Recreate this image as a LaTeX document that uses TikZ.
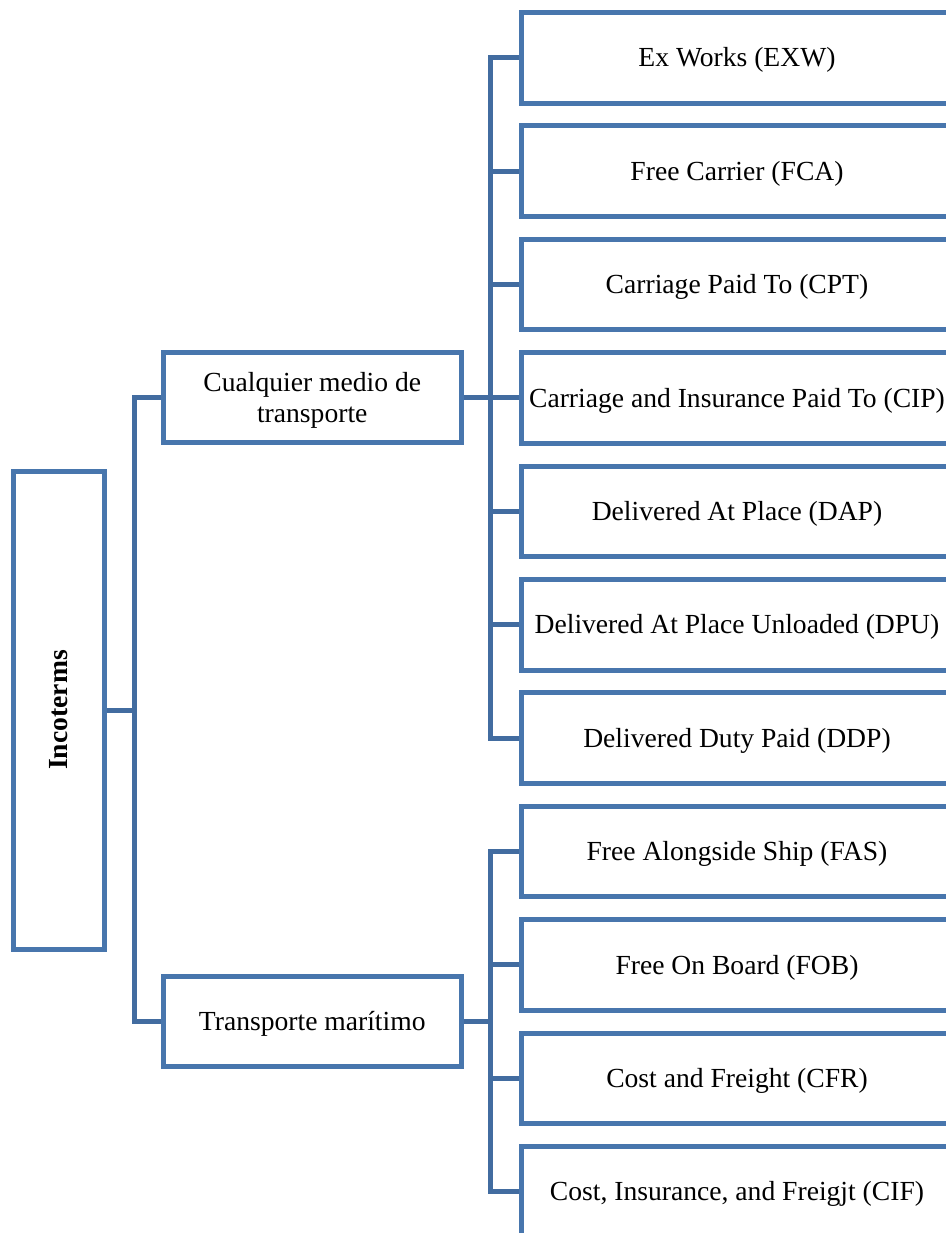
\documentclass[tikz,border=0pt]{standalone}
\usepackage{fontspec}
\setmainfont{Liberation Serif}
\definecolor{boxblue}{RGB}{72,118,173}
\definecolor{linkblue}{RGB}{66,108,160}
% centred label, set slightly below the geometric middle of its box
\newcommand\boxlabel[1]{\raisebox{-1.5pt}[\height][\depth]{\begin{tabular}{@{}c@{}}#1\end{tabular}}}
\tikzset{
  base/.style={draw=boxblue, line width=2.5pt, fill=white, inner sep=0pt,
    font=\fontsize{13.8pt}{15.5pt}\selectfont},
  rootbox/.style={base, minimum width=45.5pt, minimum height=239pt},
  groupbox/.style={base, minimum width=148.75pt, minimum height=44.75pt},
  termbox/.style={base, minimum width=216pt, minimum height=45.25pt},
  link/.style={draw=linkblue, line width=2.5pt, line join=miter},
}
\begin{document}
\begin{tikzpicture}[x=0.5pt, y=-0.5pt]
\useasboundingbox (0,0) rectangle (946,1233);
\clip (0,0) rectangle (946,1233);

% root
\node[rootbox] (inc) at (59,710) {\rotatebox{90}{\textbf{Incoterms}}};

% groups
\node[groupbox] (cual) at (312.25,397.5) {\boxlabel{Cualquier medio de\\transporte}};
\node[groupbox] (tran) at (312.25,1021.5) {\boxlabel{Transporte marítimo}};

% terms
\node[termbox] (exw) at (737,57.75)   {\boxlabel{Ex Works (EXW)}};
\node[termbox] (fca) at (737,171.15)  {\boxlabel{Free Carrier (FCA)}};
\node[termbox] (cpt) at (737,284.55)  {\boxlabel{Carriage Paid To (CPT)}};
\node[termbox] (cip) at (737,397.95)  {\boxlabel{Carriage and Insurance Paid To (CIP)}};
\node[termbox] (dap) at (737,511.35)  {\boxlabel{Delivered At Place (DAP)}};
\node[termbox] (dpu) at (737,624.75)  {\boxlabel{Delivered At Place Unloaded (DPU)}};
\node[termbox] (ddp) at (737,738.15)  {\boxlabel{Delivered Duty Paid (DDP)}};
\node[termbox] (fas) at (737,851.55)  {\boxlabel{Free Alongside Ship (FAS)}};
\node[termbox] (fob) at (737,964.95)  {\boxlabel{Free On Board (FOB)}};
\node[termbox] (cfr) at (737,1078.35) {\boxlabel{Cost and Freight (CFR)}};
\node[termbox] (cif) at (737,1191.75) {\boxlabel{Cost, Insurance, and Freigjt (CIF)}};

% trunk and buses
\coordinate (trunk) at (134.5,0);
\coordinate (bus) at (490.5,0);

\draw[link] (inc.east) -- (inc.east -| trunk);
\draw[link] (cual.west) -- (cual.west -| trunk) -- (tran.west -| trunk) -- (tran.west);

\draw[link] (exw.west) -- (exw.west -| bus) -- (ddp.west -| bus) -- (ddp.west);
\foreach \n in {fca,cpt,cip,dap,dpu}
  \draw[link] (\n.west) -- (\n.west -| bus);
\draw[link] (cual.east) -- (cual.east -| bus);

\draw[link] (fas.west) -- (fas.west -| bus) -- (cif.west -| bus) -- (cif.west);
\foreach \n in {fob,cfr}
  \draw[link] (\n.west) -- (\n.west -| bus);
\draw[link] (tran.east) -- (tran.east -| bus);
\end{tikzpicture}
\end{document}
